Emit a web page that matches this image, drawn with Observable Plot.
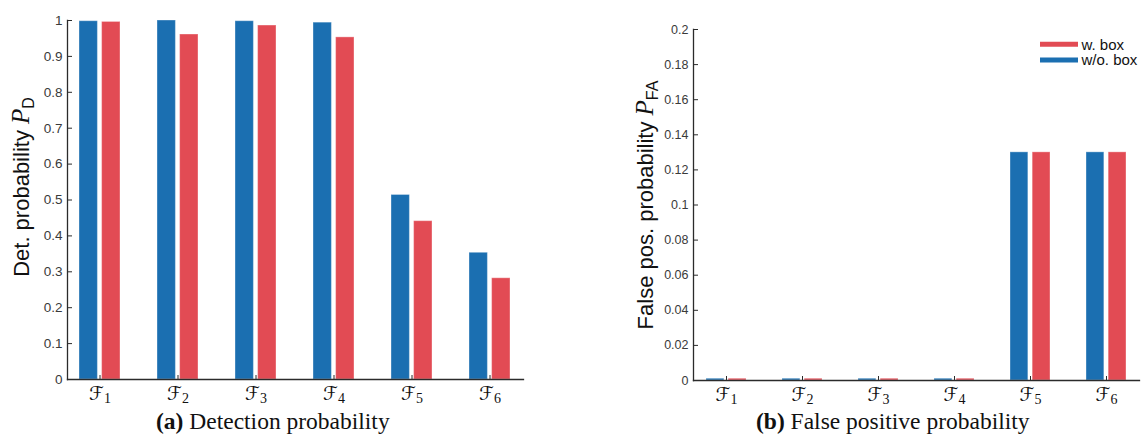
<!DOCTYPE html>
<html><head><meta charset="utf-8">
<script src="https://cdn.jsdelivr.net/npm/d3@7"></script>
<script src="https://cdn.jsdelivr.net/npm/@observablehq/plot@0.6"></script>
<style>
body{margin:0;background:#fff;}
#root{position:relative;width:1144px;height:436px;overflow:hidden;background:#fff;}
.panel{position:absolute;top:0;}
.cap{position:absolute;top:410px;font-family:"Liberation Serif","Times New Roman",serif;font-size:23.5px;color:#111;white-space:nowrap;line-height:1;}
#legend{position:absolute;left:1030px;top:30px;}
</style></head>
<body><div id="root"></div>
<script>
// ---- data ----
const categories = ["ℱ1","ℱ2","ℱ3","ℱ4","ℱ5","ℱ6"];
const seriesNames = ["w. box","w/o. box"];
const detWoBox = [0.998, 1.000, 0.998, 0.994, 0.514, 0.353];
const detWBox  = [0.996, 0.961, 0.986, 0.953, 0.441, 0.282];
const fpWoBox  = [0.001, 0.001, 0.001, 0.001, 0.130, 0.130];
const fpWBox   = [0.001, 0.001, 0.001, 0.001, 0.130, 0.130];
const detTicks = [0, 0.1, 0.2, 0.3, 0.4, 0.5, 0.6, 0.7, 0.8, 0.9, 1];
const fpTicks  = [0, 0.02, 0.04, 0.06, 0.08, 0.1, 0.12, 0.14, 0.16, 0.18, 0.2];
const captions = [["(a)", " Detection probability"], ["(b)", " False positive probability"]];
const yLabels = [["Det. probability ", "P", "D"], ["False pos. probability ", "P", "FA"]];

const BLUE = "#1b6fb1", RED = "#e24b54", AXIS = "#2b2b2b", TICKTXT = "#3a3a3a";
const W = 572, H = 412;
const PI = 0.47, PO = 0.132;

function panel(vals1, vals2, ticks, domain, ml, mr, mt, mb, tickFont) {
  const n = categories.length;
  const step = (W - ml - mr) / (n - PI + 2 * PO);
  const bw = step * (1 - PI);
  const half = bw / 2 + 1.75;
  const rowsBlue = categories.map((c, i) => ({cat: c, v: vals1[i]}));
  const rowsRed = categories.map((c, i) => ({cat: c, v: vals2[i]}));
  return Plot.plot({
    width: W, height: H,
    marginLeft: ml, marginRight: mr, marginTop: mt, marginBottom: mb,
    x: {domain: categories, paddingInner: PI, paddingOuter: PO},
    y: {domain},
    style: {fontFamily: "'Liberation Sans', Arial, sans-serif", background: "white", overflow: "visible"},
    marks: [
      Plot.barY(rowsBlue, {x: "cat", y: "v", fill: BLUE, insetRight: half, stroke: "white", strokeOpacity: 0.35, strokeWidth: 1}),
      Plot.barY(rowsRed, {x: "cat", y: "v", fill: RED, insetLeft: half, stroke: "white", strokeOpacity: 0.35, strokeWidth: 1}),
      Plot.frame({anchor: "left", stroke: AXIS, strokeWidth: 1.3}),
      Plot.frame({anchor: "bottom", stroke: AXIS, strokeWidth: 1.3}),
      Plot.axisY({ticks, tickFormat: String, tickSize: -5, tickPadding: 10, label: null, fontSize: tickFont, stroke: AXIS, fill: TICKTXT}),
      Plot.axisX({tickSize: -4, tickPadding: 11, label: null, fontSize: 19, fontFamily: "'DejaVu Sans', sans-serif", stroke: AXIS, fill: "#111"})
    ]
  });
}

function fixX(svg) {
  d3.select(svg).selectAll('g[aria-label="x-axis tick label"] text').each(function() {
    const s = this.textContent;
    const t = d3.select(this);
    t.text(null);
    t.append("tspan").attr("font-style", "italic").text(s[0]);
    t.append("tspan").attr("font-family", "'Liberation Serif', serif").attr("font-size", 14).attr("dy", 3).text(s.slice(1));
  });
}

function addYLabel(svg, parts, x, y) {
  const t = d3.select(svg).append("text")
    .attr("transform", `translate(${x},${y}) rotate(-90)`)
    .attr("text-anchor", "middle")
    .attr("font-family", "'Liberation Sans', Arial, sans-serif")
    .attr("font-size", 22).attr("fill", "#111");
  t.append("tspan").text(parts[0]);
  t.append("tspan").attr("font-family", "'Liberation Serif', serif").attr("font-style", "italic").attr("font-size", 25).text(parts[1]);
  t.append("tspan").attr("font-size", 16).attr("dy", 5).text(parts[2]);
}

const root = document.getElementById("root");
const p1 = panel(detWoBox, detWBox, detTicks, [0, 1], 67, 49, 20, 33, 13.5);
const p2 = panel(fpWoBox, fpWBox, fpTicks, [0, 0.2], 121, 5, 29, 32, 12.5);
fixX(p1); fixX(p2);
addYLabel(p1, yLabels[0], 29, 187);
addYLabel(p2, yLabels[1], 81, 205);
const d1 = document.createElement("div"); d1.className = "panel"; d1.style.left = "0px"; d1.appendChild(p1);
const d2 = document.createElement("div"); d2.className = "panel"; d2.style.left = "572px"; d2.appendChild(p2);
root.appendChild(d1); root.appendChild(d2);

captions.forEach((c, i) => {
  const el = document.createElement("div");
  el.className = "cap";
  el.style.left = (i === 0 ? 156 : 756) + "px";
  const b = document.createElement("b"); b.textContent = c[0];
  el.appendChild(b); el.appendChild(document.createTextNode(c[1]));
  root.appendChild(el);
});

// legend
const lg = d3.select(root).append("svg").attr("id", "legend").attr("width", 114).attr("height", 45);
[[seriesNames[0], RED, 14.3], [seriesNames[1], BLUE, 30]].forEach(([name, col, yy]) => {
  lg.append("line").attr("x1", 10).attr("x2", 48).attr("y1", yy).attr("y2", yy).attr("stroke", col).attr("stroke-width", 5);
  lg.append("text").attr("x", 51.5).attr("y", yy + 5.3).attr("font-family", "'Liberation Sans', Arial, sans-serif")
    .attr("font-size", 15).attr("fill", "#111").text(name);
});
</script>
</body></html>
